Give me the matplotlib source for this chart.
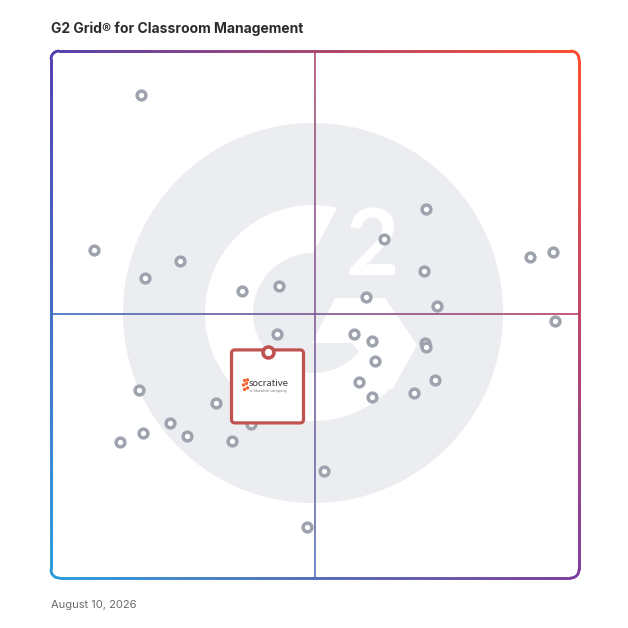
import numpy as np
import matplotlib
matplotlib.use("Agg")
import matplotlib.pyplot as plt
from matplotlib.collections import LineCollection
from matplotlib.patches import Circle, Polygon, FancyBboxPatch
from matplotlib.transforms import ScaledTranslation

# ---------------- data (0-100 grid scale: x = satisfaction, y = market presence)
product_x = [17.0, 8.1, 17.8, 24.4, 36.2, 43.2, 42.8, 16.7, 31.3, 22.5, 17.4, 25.8,
             13.1, 34.3, 37.9, 51.7, 48.5, 71.0, 63.1, 70.6, 59.7, 73.1, 90.7, 95.1,
             95.5, 57.4, 60.8, 70.8, 71.0, 61.4, 58.3, 60.8, 68.8, 72.7]
product_y = [91.7, 62.2, 56.9, 60.2, 54.5, 55.4, 46.3, 35.7, 33.2, 29.4, 27.5, 26.9,
             25.8, 26.0, 29.2, 20.3, 9.7, 70.0, 64.3, 58.3, 53.3, 51.6, 60.9, 61.9,
             48.8, 46.3, 45.0, 44.6, 43.8, 41.2, 37.2, 34.3, 35.1, 37.6]
highlight_name = "socrative"
highlight_sub = "a Showbie company"
highlight_x = [41.1]
highlight_y = [42.9]
title = "G2 Grid\u00ae for Classroom Management"
date_label = "August 10, 2026"

W = H = 628
fig = plt.figure(figsize=(6.28, 6.28), dpi=100)
fig.patch.set_facecolor("white")

# grid rectangle in pixels
GX0, GY0, GX1, GY1 = 51, 51, 579, 578

# background axes in pixel coordinates (y down)
bg = fig.add_axes([0, 0, 1, 1])
bg.set_xlim(0, W)
bg.set_ylim(H, 0)
bg.axis("off")

# ---- G2 watermark
cx, cy = 313, 313
bg.add_patch(Circle((cx, cy), 190, color="#ebedf0", lw=0, zorder=1))
# G ring
ro, ri = 108, 60
a_out = np.radians(np.linspace(77, 320, 120))
a_in = np.radians(np.linspace(320, 90, 120))
ring = np.vstack([np.c_[cx + ro * np.cos(a_out), cy - ro * np.sin(a_out)],
                  np.c_[cx + ri * np.cos(a_in), cy - ri * np.sin(a_in)]])
bg.add_patch(Polygon(ring, closed=True, color="white", lw=0, zorder=2))
tri = [(335, 298), (385, 298), (417, 345), (392, 390), (352, 343), (312, 343)]
bg.add_patch(Polygon(tri, closed=True, color="white", lw=0, zorder=2))
bg.text(372, 249, "2", color="white", fontsize=66, fontweight="bold",
        family="Lato", ha="center", va="center", zorder=2)

# ---- gradient helpers
C_TL = np.array([0x4f, 0x3c, 0xae]) / 255
C_TR = np.array([0xff, 0x4b, 0x2b]) / 255
C_BR = np.array([0x7b, 0x3a, 0x9e]) / 255
C_BL = np.array([0x2b, 0x9d, 0xd9]) / 255

def grad_color(x, y):
    u = np.clip((x - GX0) / (GX1 - GX0), 0, 1)
    v = np.clip((y - GY0) / (GY1 - GY0), 0, 1)
    top = C_TL * (1 - u) + C_TR * u
    bot = C_BL * (1 - u) + C_BR * u
    return top * (1 - v) + bot * v

def densify(pts, n=1500):
    pts = np.asarray(pts, float)
    d = np.r_[0, np.cumsum(np.hypot(*np.diff(pts, axis=0).T))]
    t = np.linspace(0, d[-1], n)
    return np.c_[np.interp(t, d, pts[:, 0]), np.interp(t, d, pts[:, 1])]

def grad_line(pts, lw, alpha=1.0, z=3):
    p = densify(pts)
    segs = np.stack([p[:-1], p[1:]], axis=1)
    mid = (p[:-1] + p[1:]) / 2
    cols = np.array([np.r_[grad_color(mx, my), alpha] for mx, my in mid])
    bg.add_collection(LineCollection(segs, colors=cols, linewidths=lw,
                                     capstyle="round", zorder=z))

# rounded border
r = 8
arcs = []
for (ccx, ccy, a0, a1) in [(GX0 + r, GY0 + r, 180, 270), (GX1 - r, GY0 + r, 270, 360),
                           (GX1 - r, GY1 - r, 0, 90), (GX0 + r, GY1 - r, 90, 180)]:
    a = np.radians(np.linspace(a0, a1, 20))
    arcs.append(np.c_[ccx + r * np.cos(a), ccy + r * np.sin(a)])
border = np.vstack(arcs + [arcs[0][:1]])
grad_line(border, 1.9, 1.0, z=4)

# mid lines
MX, MY = 315, 314
grad_line([(MX, GY0), (MX, GY1)], 1.1, 0.75, z=3)
grad_line([(GX0, MY), (GX1, MY)], 1.1, 0.85, z=3)

# ---- data axes
ax = fig.add_axes([GX0 / W, 1 - GY1 / H, (GX1 - GX0) / W, (GY1 - GY0) / H])
ax.set_xlim(0, 100)
ax.set_ylim(0, 100)
ax.patch.set_alpha(0)
ax.axis("off")

ax.scatter(product_x, product_y, s=40, facecolor="white", edgecolor="#9ea3ae",
           linewidths=2.5, zorder=3, clip_on=False)

# highlighted product box anchored at its point
hx, hy = highlight_x[0], highlight_y[0]
T = fig.dpi_scale_trans + ScaledTranslation(hx, hy, ax.transData)
ax.add_patch(FancyBboxPatch((-0.365, -0.71), 0.72, 0.73,
                            boxstyle="round,pad=0,rounding_size=0.035",
                            transform=T, fc="white", ec="#c0534f", lw=2.3,
                            zorder=5, clip_on=False))
for dx, dy in [(-0.235, -0.285), (-0.205, -0.28), (-0.245, -0.33),
               (-0.215, -0.315), (-0.235, -0.375), (-0.205, -0.36)]:
    ax.add_patch(Circle((dx, dy), 0.017, transform=T, color="#f26532",
                        lw=0, zorder=6, clip_on=False))
ax.text(0.005, -0.32, highlight_name, transform=T, fontsize=7.2, color="#3b3b3b",
        family="Lato", ha="center", va="center", zorder=6)
ax.text(0.0, -0.39, highlight_sub, transform=T, fontsize=2.6, color="#777777",
        ha="center", va="center", zorder=6)
ax.scatter(highlight_x, highlight_y, s=62, facecolor="white", edgecolor="#c0534f",
           linewidths=2.6, zorder=7, clip_on=False)

# ---- texts
fig.text(GX0 / W, 1 - 29 / H, title, fontsize=10, fontweight="bold",
         family="Inter", color="#2b2b2b", ha="left", va="center")
fig.text(GX0 / W, 1 - 605 / H, date_label, fontsize=8, family="Inter",
         color="#6b6b6b", ha="left", va="center")

fig.savefig("out.png", dpi=100, facecolor="white")
